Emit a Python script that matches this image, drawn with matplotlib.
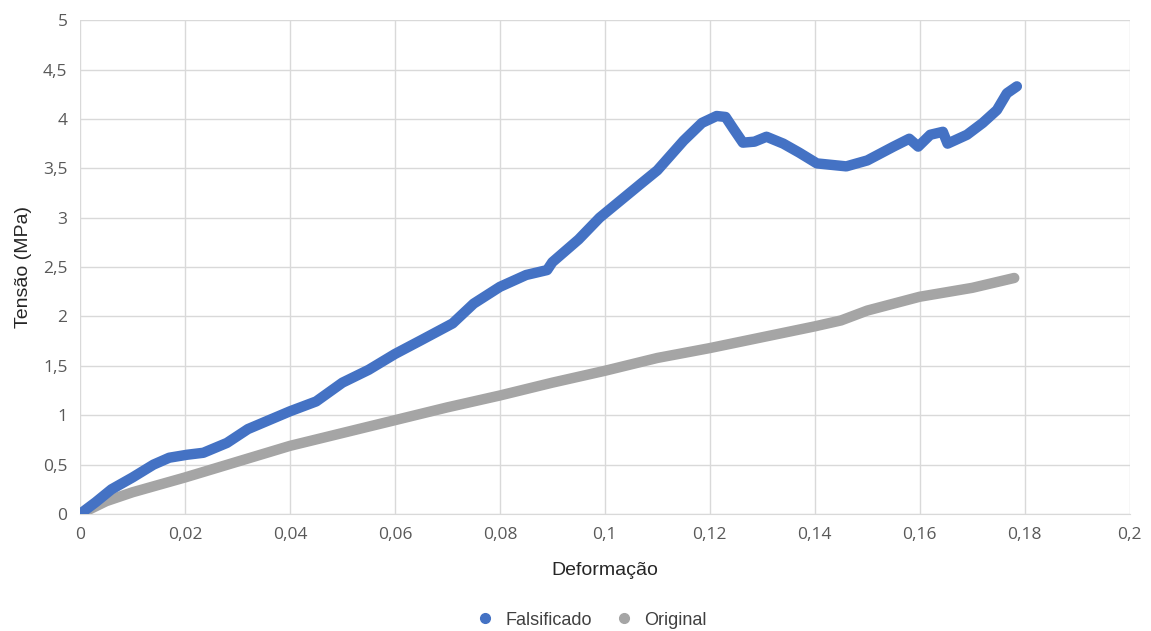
import matplotlib.pyplot as plt
from matplotlib.ticker import MultipleLocator, FuncFormatter

# Falsificado
fals_x = [0.0, 0.003, 0.006, 0.01, 0.014, 0.017, 0.0204, 0.0235, 0.028, 0.032, 0.036, 0.04,
          0.045, 0.05, 0.055, 0.06, 0.065, 0.071, 0.075, 0.08, 0.085, 0.089, 0.09,
          0.095, 0.099, 0.107, 0.11, 0.115, 0.1185, 0.1213, 0.123, 0.1245, 0.1263,
          0.1285, 0.1308, 0.134, 0.137, 0.1404, 0.146, 0.148, 0.15, 0.155, 0.158,
          0.1597, 0.162, 0.1644, 0.1653, 0.169, 0.172, 0.1747, 0.1766, 0.1785]
fals_y = [0.0, 0.12, 0.25, 0.37, 0.5, 0.57, 0.6, 0.62, 0.72, 0.86, 0.95, 1.04,
          1.14, 1.33, 1.46, 1.62, 1.76, 1.93, 2.13, 2.3, 2.42, 2.47, 2.55,
          2.78, 3.0, 3.35, 3.48, 3.78, 3.96, 4.03, 4.02, 3.9, 3.76,
          3.77, 3.82, 3.75, 3.66, 3.55, 3.52, 3.55, 3.58, 3.72, 3.8,
          3.72, 3.84, 3.87, 3.75, 3.84, 3.96, 4.09, 4.26, 4.33]

# Original
orig_x = [0.0, 0.005, 0.01, 0.02, 0.03, 0.04, 0.05, 0.06, 0.07, 0.08, 0.09,
          0.1, 0.11, 0.12, 0.13, 0.14, 0.145, 0.15, 0.16, 0.17, 0.178]
orig_y = [0.0, 0.13, 0.22, 0.37, 0.53, 0.69, 0.82, 0.95, 1.08, 1.2, 1.33,
          1.45, 1.58, 1.68, 1.79, 1.9, 1.96, 2.06, 2.2, 2.29, 2.39]

blue = '#4472C4'
gray = '#A5A5A5'

fig = plt.figure(figsize=(11.51, 6.31), dpi=100)
ax = fig.add_axes([0.0695, 0.1854, 0.912, 0.7826])

ax.plot(orig_x, orig_y, color=gray, lw=7.5, solid_capstyle='round',
        solid_joinstyle='round', zorder=3)
ax.plot(fals_x, fals_y, color=blue, lw=7.5, solid_capstyle='round',
        solid_joinstyle='round', zorder=4)

ax.set_xlim(0, 0.2)
ax.set_ylim(0, 5)
ax.xaxis.set_major_locator(MultipleLocator(0.02))
ax.yaxis.set_major_locator(MultipleLocator(0.5))


def virgula(v, pos):
    s = ('%.2f' % v).rstrip('0').rstrip('.')
    return s.replace('.', ',')


ax.xaxis.set_major_formatter(FuncFormatter(virgula))
ax.yaxis.set_major_formatter(FuncFormatter(virgula))
ax.grid(color='#D9D9D9', lw=1)
ax.set_axisbelow(True)
for s in ['top', 'right', 'left']:
    ax.spines[s].set_visible(False)
ax.spines['bottom'].set_color('#D9D9D9')
ax.tick_params(length=0, labelsize=12.5, labelcolor='#595959', pad=9)
for lab in ax.get_xticklabels() + ax.get_yticklabels():
    lab.set_family('Open Sans')
ax.set_xlabel('Deformação', fontsize=14, color='#262626', labelpad=14,
              family='Liberation Sans')
ax.set_ylabel('Tensão (MPa)', fontsize=14, color='#262626', labelpad=8,
              family='Liberation Sans')

h1 = plt.Line2D([], [], color=blue, marker='o', ls='', ms=7)
h2 = plt.Line2D([], [], color=gray, marker='o', ls='', ms=7)
fig.legend([h1, h2], ['Falsificado', 'Original'], loc='center',
           bbox_to_anchor=(0.51, 0.017), ncol=2, frameon=False,
           prop={'family': 'Liberation Sans', 'size': 13},
           handletextpad=0.1, columnspacing=0.8, labelcolor='#404040')

fig.savefig('out.png', dpi=100)
